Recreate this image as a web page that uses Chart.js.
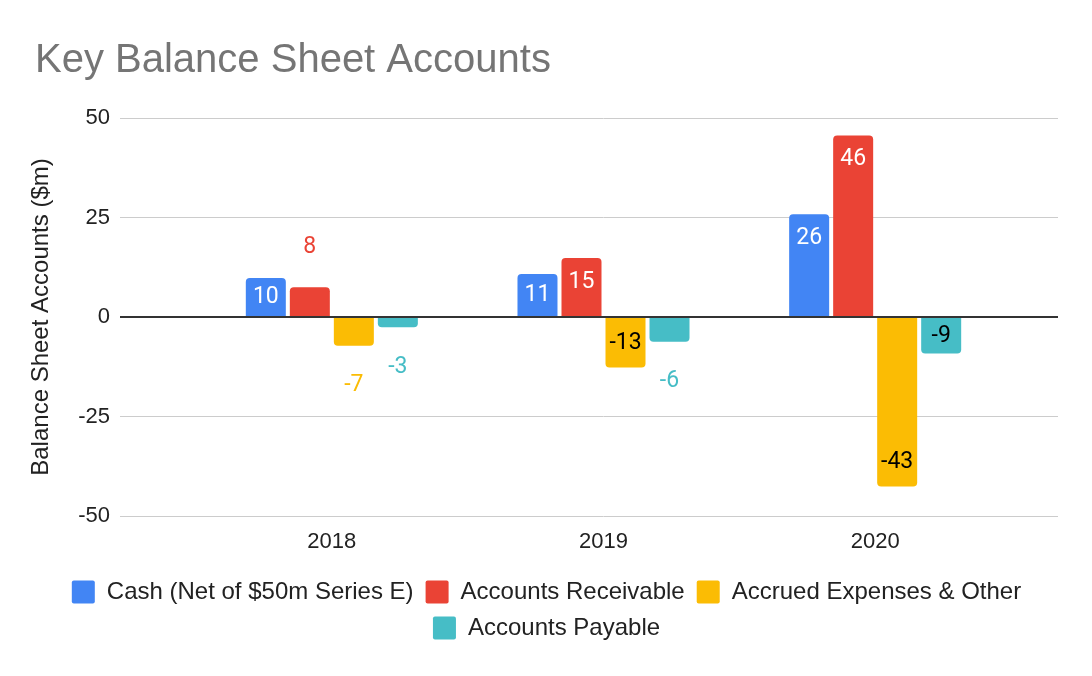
<!DOCTYPE html>
<html>
<head>
<meta charset="utf-8">
<title>Key Balance Sheet Accounts</title>
<script src="https://cdn.jsdelivr.net/npm/chart.js@4.4.1/dist/chart.umd.min.js"></script>
<style>
  html, body { margin: 0; padding: 0; background: #fff; }
  canvas { display: block; }
</style>
</head>
<body>
<canvas id="balanceChart" width="1092" height="676"></canvas>
<script>
const YEARS = ['2018', '2019', '2020'];

const CASH        = [9.8, 10.8, 25.8];
const RECEIVABLE  = [7.5, 14.8, 45.6];
const ACCRUED     = [-7.2, -12.7, -42.6];
const PAYABLE     = [-2.6, -6.2, -9.2];

const SERIES_NAMES = [
    'Cash (Net of $50m Series E)',
    'Accounts Receivable',
    'Accrued Expenses & Other',
    'Accounts Payable',
];

const Y_TICKS = [-50, -25, 0, 25, 50];

const COLORS = {
    blue:   '#4285F4',
    red:    '#EA4335',
    yellow: '#FBBC04',
    teal:   '#46BDC6',
    grid:   '#cccccc',
    zero:   '#333333',
    text:   '#222222',
    title:  '#757575',
};

const SANS = '"Liberation Sans", Arial, sans-serif';
const LABEL_FONT = '23px Roboto, "Noto Sans", sans-serif';

// label colour when the value sits inside its bar
const INSIDE_TEXT = ['#ffffff', '#ffffff', '#000000', '#000000'];

const barLabels = {
    id: 'barLabels',
    afterDatasetsDraw(chart) {
        const { ctx } = chart;
        ctx.save();
        ctx.font = LABEL_FONT;
        ctx.textAlign = 'center';
        ctx.textBaseline = 'middle';
        chart.data.datasets.forEach((ds, i) => {
            const meta = chart.getDatasetMeta(i);
            meta.data.forEach((bar, j) => {
                const value = ds.data[j];
                const h = Math.abs(bar.base - bar.y);
                const dir = Math.sign(bar.base - bar.y) || 1;
                let y, color;
                if (h >= 32) {
                    y = bar.y + dir * Math.min(24, h / 2);
                    color = INSIDE_TEXT[i];
                } else {
                    y = bar.y - dir * 40;
                    color = ds.backgroundColor;
                }
                ctx.fillStyle = color;
                ctx.fillText(String(Math.round(value)), bar.x, y);
            });
        });
        ctx.restore();
    },
};

const gridColor = c => c.tick && c.tick.value === 0 ? COLORS.zero : COLORS.grid;
const gridWidth = c => c.tick && c.tick.value === 0 ? 2 : 1;

function makeDataset(label, data, color) {
    return {
        label,
        data,
        backgroundColor: color,
        borderRadius: 4,
        borderSkipped: 'start',
        barPercentage: 0.909,
        categoryPercentage: 0.648,
    };
}

function init() {
    const canvas = document.getElementById('balanceChart');

    new Chart(canvas.getContext('2d'), {
        type: 'bar',
        data: {
            labels: YEARS,
            datasets: [
                makeDataset(SERIES_NAMES[0], CASH,       COLORS.blue),
                makeDataset(SERIES_NAMES[1], RECEIVABLE, COLORS.red),
                makeDataset(SERIES_NAMES[2], ACCRUED,    COLORS.yellow),
                makeDataset(SERIES_NAMES[3], PAYABLE,    COLORS.teal),
            ],
        },
        options: {
            responsive: false,
            animation: false,
            layout: { padding: { left: 35, right: 34, top: 0, bottom: 26 } },
            scales: {
                x: {
                    afterFit: scale => { scale.height = 52; },
                    grid: { display: false },
                    border: { display: false },
                    ticks: { color: COLORS.text, font: { family: SANS, size: 22 }, padding: 5 },
                },
                y: {
                    min: -50,
                    max: 50,
                    afterBuildTicks: scale => { scale.ticks = Y_TICKS.map(v => ({ value: v })); },
                    afterFit: scale => { scale.width = 161; },
                    border: { display: false },
                    grid: { color: gridColor, lineWidth: gridWidth, tickLength: 76 },
                    ticks: { color: COLORS.text, font: { family: SANS, size: 22 }, padding: 10 },
                    title: {
                        display: true,
                        text: 'Balance Sheet Accounts ($m)',
                        color: COLORS.text,
                        font: { family: SANS, size: 24 },
                        padding: { top: -8, bottom: 0 },
                    },
                },
                yRight: {
                    position: 'right',
                    min: -50,
                    max: 50,
                    afterBuildTicks: scale => { scale.ticks = Y_TICKS.map(v => ({ value: v })); },
                    afterFit: scale => { scale.width = 47; },
                    border: { display: false },
                    grid: { color: gridColor, lineWidth: gridWidth, tickLength: 47, drawOnChartArea: false },
                    ticks: { display: false },
                },
            },
            plugins: {
                title: {
                    display: true,
                    text: 'Key Balance Sheet Accounts',
                    align: 'start',
                    color: COLORS.title,
                    font: { family: SANS, size: 40, weight: 'normal' },
                    padding: { top: 37, bottom: 33 },
                },
                legend: {
                    position: 'bottom',
                    labels: {
                        color: COLORS.text,
                        font: { family: SANS, size: 24 },
                        boxWidth: 23,
                        boxHeight: 23,
                        useBorderRadius: true,
                        borderRadius: 2,
                        padding: 12,
                    },
                },
                tooltip: { enabled: false },
            },
        },
        plugins: [barLabels],
    });
}

document.addEventListener('DOMContentLoaded', init);
</script>
</body>
</html>
